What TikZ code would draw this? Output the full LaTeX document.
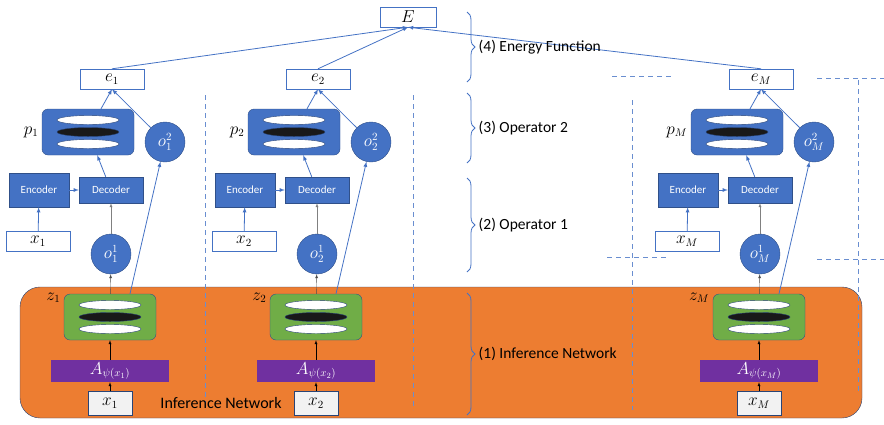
\documentclass[tikz,border=0pt]{standalone}
\usepackage{fontspec}
\setmainfont{Carlito}
\usepackage{amsmath}
\usetikzlibrary{decorations.pathreplacing}
\definecolor{mblue}{HTML}{4472C4}
\definecolor{morange}{HTML}{ED7D31}
\definecolor{mgreen}{HTML}{70AD47}
\definecolor{mpurple}{HTML}{7030A0}
\tikzset{
  every node/.style={font=\fontsize{16}{18}\selectfont},
  vbox/.style={draw=mblue, fill=white, minimum width=64pt, minimum height=20pt, inner sep=0pt},
  layer/.style={draw=mblue!70!black, rounded corners=6pt, minimum width=92pt, minimum height=46pt},
  blk/.style={draw=mblue!70!black, fill=mblue, text=white, font=\fontsize{11}{12}\selectfont, inner sep=0pt},
  unit/.style={circle, draw=mblue!70!black, fill=mblue, text=white, minimum size=40pt, inner sep=0pt},
  flow/.style={->, mblue, thick},
  sep/.style={dashed, mblue!80, dash pattern=on 5pt off 4pt},
  side/.style={midway, right=8pt, black, font=\fontsize{15.5}{17}\selectfont},
}
\begin{document}
\begin{tikzpicture}[x=1pt, y=-1pt, >=latex]
    \useasboundingbox (0,0) rectangle (884,424);
    \fill[morange, draw=mblue!60!black, rounded corners=20pt] (20,287) rectangle (862,418);

    % separators
    \draw[sep] (205,95) -- (205,410);
    \draw[sep] (413,95) -- (413,410);
    \draw[sep] (632,100) -- (632,410);
    \draw[sep] (858,80) -- (858,392);
    \draw[sep] (612,76) -- (673,76);
    \draw[sep] (817,78) -- (884,78);
    \draw[sep] (607,257) -- (668,257);
    \draw[sep] (817,259) -- (884,259);

    \node[vbox, minimum width=56pt] (E) at (408,17) {$E$};

    \foreach \i/\dx in {1/0, 2/206, M/649} {
      \begin{scope}[xshift=\dx]
        \node[vbox] (e\i) at (112,79) {$e_{\i}$};
        \node[layer, fill=mblue] (p\i) at (88,132) {};
        \node[unit] (ob\i) at (165,142) {$o_{\i}^2$};
        \node[blk, minimum width=60pt, minimum height=34pt] (enc\i) at (39,190) {Encoder};
        \node[blk, minimum width=64pt, minimum height=26pt] (dec\i) at (111,190) {Decoder};
        \node[vbox] (x\i) at (38,241) {$x_{\i}$};
        \node[unit] (oa\i) at (111,254) {$o_{\i}^1$};
        \node[layer, fill=mgreen] (z\i) at (110,317) {};
        \node[fill=mpurple, text=white, minimum width=118pt, minimum height=22pt, inner sep=0pt] (A\i) at (110,371) {$A_{\psi(x_{\i})}$};
        \node[draw=mblue!60!black, fill=gray!10, minimum width=44pt, minimum height=24pt, inner sep=0pt] (xin\i) at (110,403) {$x_{\i}$};
        \node[anchor=east] at (p\i.west) {$p_{\i}$};
        \node[anchor=east] at ([yshift=-4pt]z\i.north west) {$z_{\i}$};
        \foreach \n in {p\i, z\i} {
          \fill[white, draw=mblue!60!black] ([yshift=-12pt]\n.center) ellipse (31pt and 4.5pt);
          \fill[black!90, draw=mblue!60!black] (\n.center) ellipse (31pt and 4.5pt);
          \fill[white, draw=mblue!60!black] ([yshift=12pt]\n.center) ellipse (31pt and 4.5pt);
        }
        \draw[flow] (p\i) -- (e\i.south);
        \draw[flow] (ob\i) -- (e\i.south);
        \draw[flow] (dec\i) -- (p\i);
        \draw[flow] (enc\i) -- (dec\i);
        \draw[flow] (x\i) -- (enc\i);
        \draw[->, gray] (oa\i) -- (dec\i);
        \draw[->, black!70] (z\i) -- (oa\i);
        \draw[flow] ([xshift=20pt]z\i.north) -- (ob\i);
        \draw[->, black] (A\i) -- (z\i);
        \draw[->, black] (xin\i) -- (A\i);
        \draw[flow] (e\i.north) -- (E.south);
      \end{scope}
    }

    \node at (221,403) {Inference Network};

    % braces
    \draw[decorate, decoration={brace, amplitude=8pt}, mblue, thick] (467,12) -- (467,82) node[side] (l4) {(4) Energy Function};
    \draw[decorate, decoration={brace, amplitude=8pt}, mblue, thick] (467,93) -- (467,163) node[side] (l3) {(3) Operator 2};
    \draw[decorate, decoration={brace, amplitude=8pt}, mblue, thick] (467,178) -- (467,272) node[side] (l2) {(2) Operator 1};
    \draw[decorate, decoration={brace, amplitude=8pt}, mblue, thick] (467,293) -- (467,415) node[side] (l1) {(1) Inference Network};
\end{tikzpicture}
\end{document}
